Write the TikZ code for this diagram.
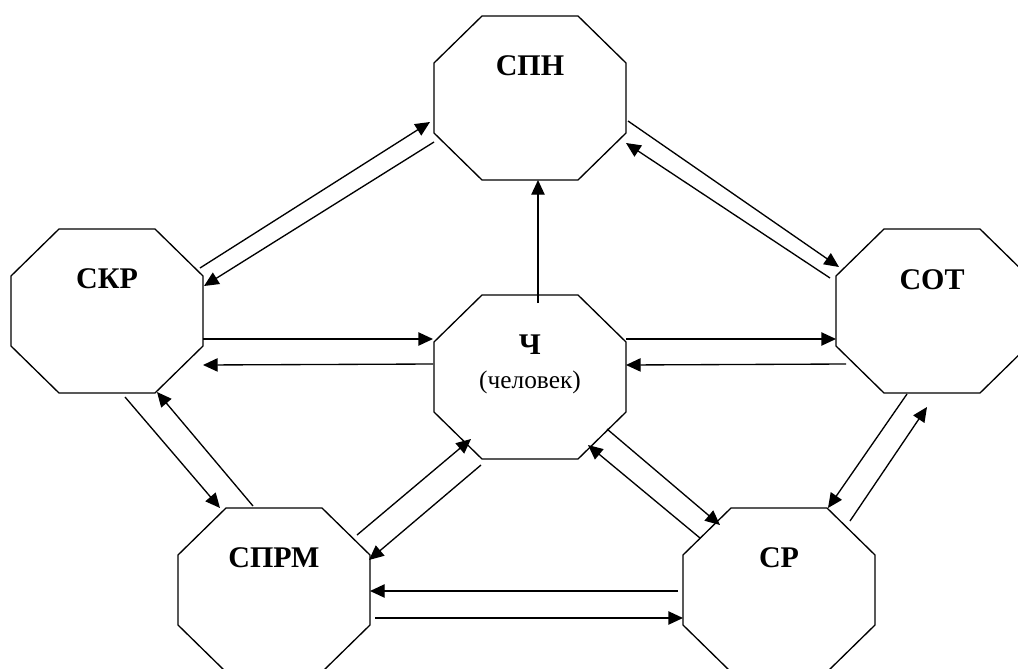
\documentclass[tikz,border=0pt]{standalone}
\usepackage{fontspec}
\setmainfont{Liberation Serif}
\usetikzlibrary{arrows.meta,calc}
\tikzset{
  oct/.style={minimum width=144pt,minimum height=123pt,inner sep=0pt,outer sep=0pt},
  lbl/.style={font=\fontsize{22.5}{27}\selectfont\bfseries,inner sep=0pt},
  sub/.style={font=\fontsize{19}{23}\selectfont,inner sep=0pt},
  link/.style={-{Triangle[length=11pt,width=10pt]},line width=1pt}
}
\begin{document}
\begin{tikzpicture}[x=0.75pt,y=-0.75pt]
    \useasboundingbox (0,0) rectangle (1018,668);
    \clip (0,0) rectangle (1018,668);
    % octagons
    \node[oct] (spn) at (530,98) {};
    \node[oct] (ckr) at (107,311) {};
    \node[oct] (ch) at (530,377) {};
    \node[oct] (cot) at (932,311) {};
    \node[oct] (sprm) at (274,590) {};
    \node[oct] (sr) at (779,590) {};
    \foreach \n in {spn,ckr,ch,cot,sprm,sr}
        \draw[line width=1pt] ($(\n.north west)+(48,0)$) -- ($(\n.north east)+(-48,0)$) -- ($(\n.north east)+(0,47)$) -- ($(\n.south east)+(0,-47)$) -- ($(\n.south east)+(-48,0)$) -- ($(\n.south west)+(48,0)$) -- ($(\n.south west)+(0,-47)$) -- ($(\n.north west)+(0,47)$) -- cycle;
    \node[lbl] (spn-t) at ($(spn)+(0,-32)$) {СПН};
    \node[lbl] (ckr-t) at ($(ckr)+(0,-32)$) {СКР};
    \node[lbl] (ch-t) at ($(ch)+(0,-32)$) {Ч};
    \node[sub] (ch-s) at ($(ch)+(0,5)$) {(человек)};
    \node[lbl] (cot-t) at ($(cot)+(0,-31)$) {СОТ};
    \node[lbl] (sprm-t) at ($(sprm)+(0,-32)$) {СПРМ};
    \node[lbl] (sr-t) at ($(sr)+(0,-32)$) {СР};
    % arrows
    \draw[link] ($(ckr)+(93,-43)$) -- ($(spn)+(-100,24)$);
    \draw[link] ($(spn)+(-96,44)$) -- ($(ckr)+(97,-25)$);
    \draw[link] ($(spn)+(98,23)$) -- ($(cot)+(-93,-44)$);
    \draw[link] ($(cot)+(-102,-33)$) -- ($(spn)+(96,45)$);
    \draw[link] ($(ch)+(8,-74)$) -- ($(spn)+(8,82)$);
    \draw[link] ($(ckr)+(96,28)$) -- ($(ch)+(-97,-38)$);
    \draw[link] ($(ch)+(-97,-13)$) -- ($(ckr)+(96,54)$);
    \draw[link] ($(ch)+(96,-38)$) -- ($(cot)+(-96,28)$);
    \draw[link] ($(cot)+(-86,53)$) -- ($(ch)+(96,-12)$);
    \draw[link] ($(ckr)+(18,86)$) -- ($(sprm)+(-54,-82)$);
    \draw[link] ($(sprm)+(-21,-84)$) -- ($(ckr)+(50,81)$);
    \draw[link] ($(sprm)+(83,-55)$) -- ($(ch)+(-59,62)$);
    \draw[link] ($(ch)+(-49,88)$) -- ($(sprm)+(95,-30)$);
    \draw[link] ($(ch)+(77,52)$) -- ($(sr)+(-59,-65)$);
    \draw[link] ($(sr)+(-79,-52)$) -- ($(ch)+(58,68)$);
    \draw[link] ($(cot)+(-25,83)$) -- ($(sr)+(49,-82)$);
    \draw[link] ($(sr)+(71,-69)$) -- ($(cot)+(-5,96)$);
    \draw[link] ($(sr)+(-101,1)$) -- ($(sprm)+(96,1)$);
    \draw[link] ($(sprm)+(101,28)$) -- ($(sr)+(-96,28)$);
\end{tikzpicture}
\end{document}
